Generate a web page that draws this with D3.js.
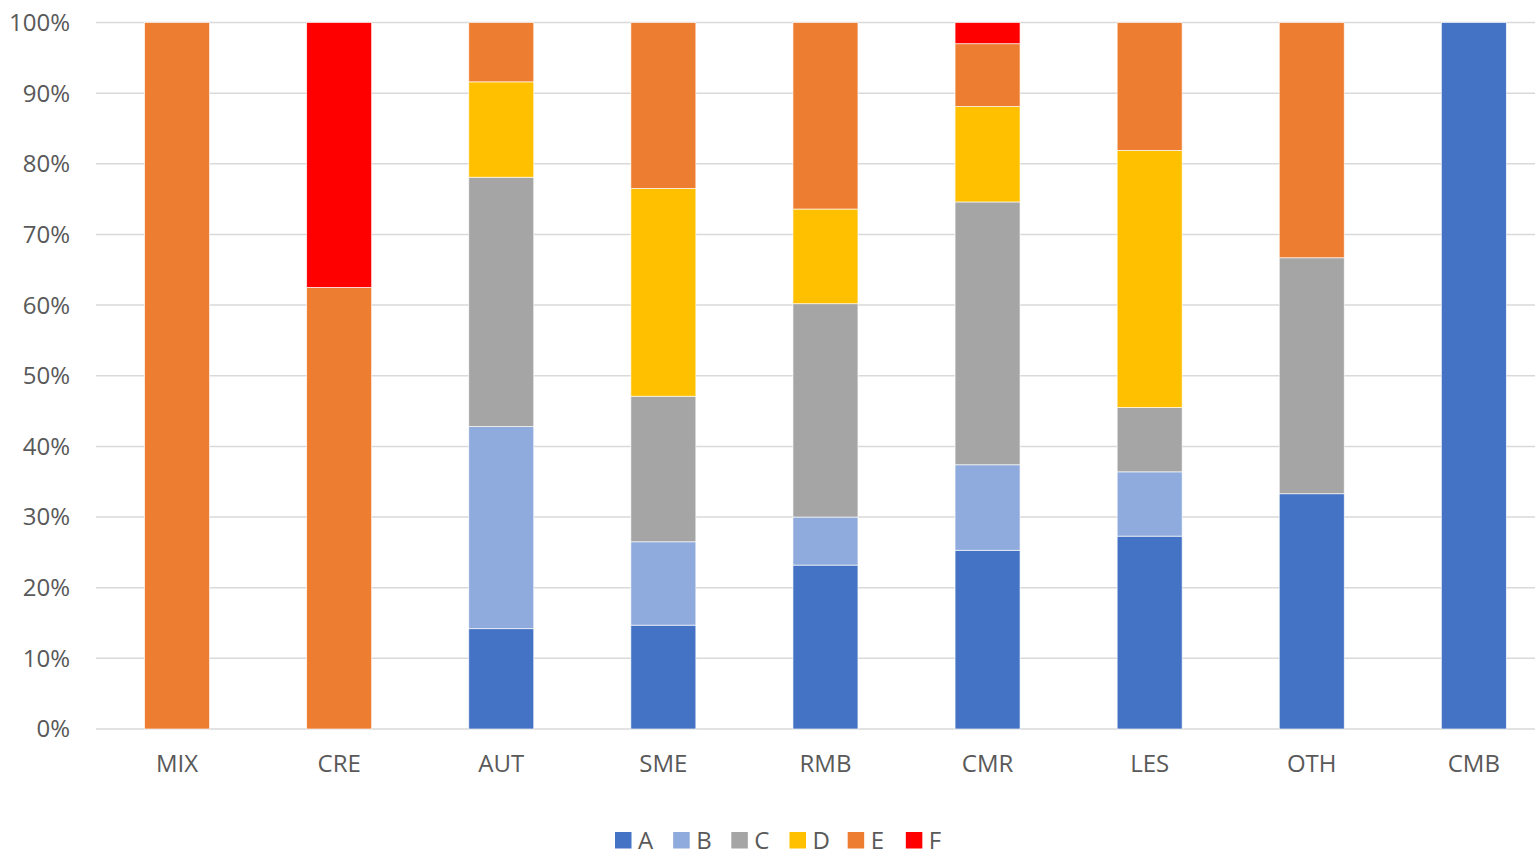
<!DOCTYPE html>
<html><head><meta charset="utf-8">
<script src="https://cdn.jsdelivr.net/npm/d3@7"></script>
<style>body{margin:0;background:#fff;font-family:"Open Sans",sans-serif;overflow:hidden;}</style>
</head><body><svg id="c" width="1535" height="851"></svg>
<script>
const categories = ["MIX","CRE","AUT","SME","RMB","CMR","LES","OTH","CMB"];
const seriesNames = ["A","B","C","D","E","F"];
const A = [0, 0, 14.2, 14.7, 23.2, 25.3, 27.3, 33.3, 100];
const B = [0, 0, 28.6, 11.8, 6.8, 12.1, 9.1, 0, 0];
const C = [0, 0, 35.3, 20.6, 30.2, 37.2, 9.1, 33.4, 0];
const D = [0, 0, 13.5, 29.4, 13.4, 13.5, 36.4, 0, 0];
const E = [100, 62.5, 8.4, 23.5, 26.4, 8.9, 18.1, 33.3, 0];
const F = [0, 37.5, 0, 0, 0, 3.0, 0, 0, 0];
const yTicks = [0,10,20,30,40,50,60,70,80,90,100];
const colors = ["#4472C4","#8FAADC","#A5A5A5","#FFC000","#ED7D31","#FF0000"];

(function(){
const seriesVals = [A,B,C,D,E,F];
const rows = categories.map((c,i)=>{const r={cat:c};seriesNames.forEach((s,j)=>r[s]=seriesVals[j][i]);return r;});
const stack = d3.stack().keys(seriesNames)(rows);

const svg = d3.select("#c");
const pL=96, pR=1535, pT=22.5, pB=729;
const x = d3.scaleBand().domain(categories).range([pL, pL+9*162.1]).paddingInner(0.599).paddingOuter(0.2995);
const y = d3.scaleLinear().domain([0,100]).range([pB,pT]);

svg.append("g").selectAll("line").data(yTicks).join("line")
  .attr("x1",pL).attr("x2",pR).attr("y1",d=>y(d)).attr("y2",d=>y(d))
  .attr("stroke","#d9d9d9").attr("stroke-width",1.5);

svg.append("g").selectAll("text").data(yTicks).join("text")
  .attr("x",70).attr("y",d=>y(d)).attr("dy","0.35em").attr("text-anchor","end")
  .attr("font-size",24).attr("fill","#595959").text(d=>d+"%");

svg.append("g").selectAll("g").data(stack).join("g")
  .attr("fill",(d,i)=>colors[i])
  .selectAll("rect").data(d=>d).join("rect")
  .attr("x",d=>x(d.data.cat)).attr("width",x.bandwidth())
  .attr("y",d=>y(d[1])).attr("height",d=>Math.max(0,y(d[0])-y(d[1])))
  .attr("stroke",d=>(d[1]-d[0])>0?"rgba(255,255,255,0.8)":"none").attr("stroke-width",0.8);

svg.append("g").selectAll("text").data(categories).join("text")
  .attr("x",d=>x(d)+x.bandwidth()/2).attr("y",772).attr("text-anchor","middle")
  .attr("font-size",24).attr("fill","#595959").text(d=>d);

const lx = d3.scaleBand().domain(seriesNames).range([615,964]);
const lg = svg.append("g").selectAll("g").data(seriesNames).join("g")
  .attr("transform",d=>`translate(${lx(d)},832)`);
lg.append("rect").attr("width",16.5).attr("height",16.5).attr("fill",(d,i)=>colors[i]);
lg.append("text").attr("x",23).attr("y",16.5).attr("font-size",24).attr("fill","#595959").text(d=>d);
})();
</script></body></html>
